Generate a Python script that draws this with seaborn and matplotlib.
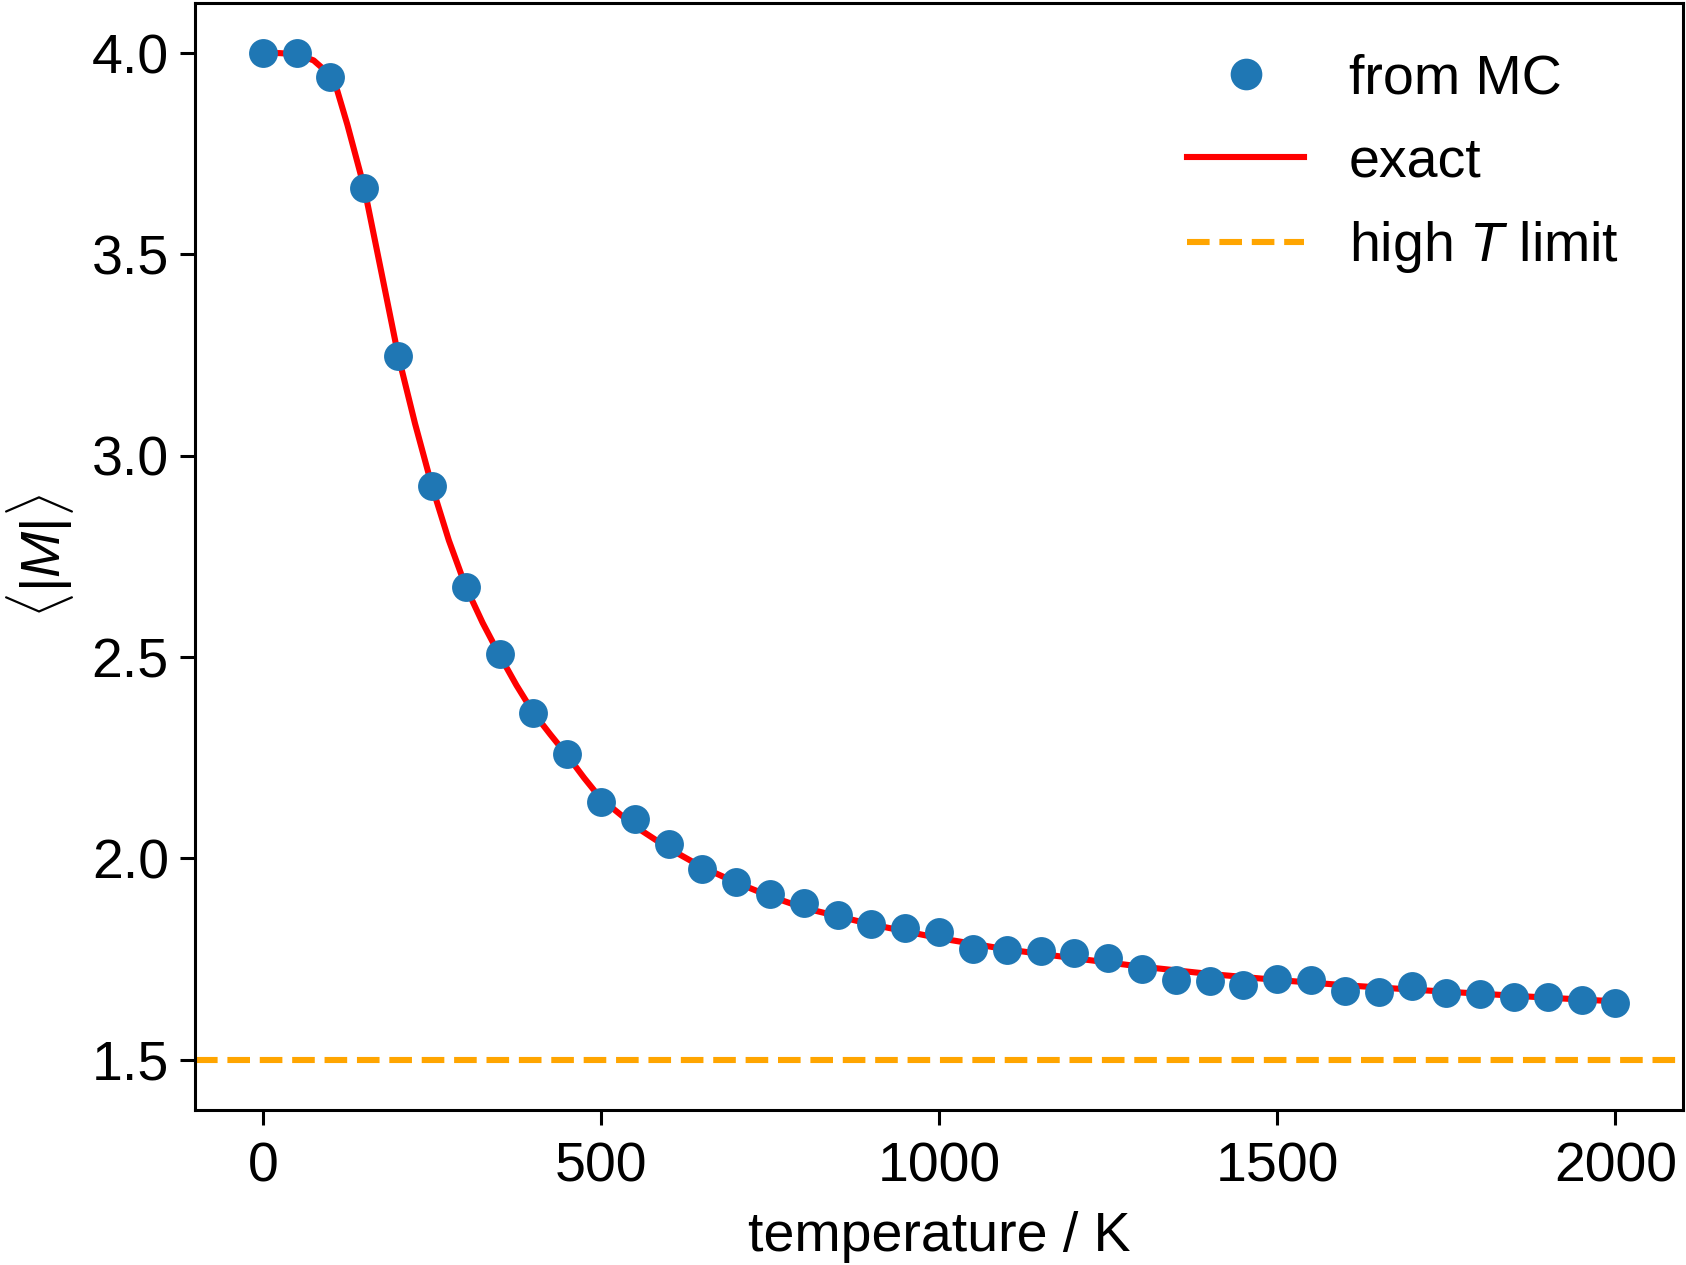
import matplotlib
matplotlib.use("Agg")
import matplotlib.pyplot as plt
import seaborn as sns
from matplotlib.lines import Line2D

# Monte Carlo samples (temperature in K, <|M|>)
temp_mc = [0, 50, 100, 150, 200, 250, 300, 350, 400, 450, 500, 550, 600, 650,
           700, 750, 800, 850, 900, 950, 1000, 1050, 1100, 1150, 1200, 1250,
           1300, 1350, 1400, 1450, 1500, 1550, 1600, 1650, 1700, 1750, 1800,
           1850, 1900, 1950, 2000]
mag_mc = [4.000, 4.000, 3.941, 3.665, 3.248, 2.925, 2.673, 2.508, 2.362, 2.260,
          2.141, 2.099, 2.036, 1.973, 1.942, 1.911, 1.888, 1.860, 1.838, 1.827,
          1.818, 1.775, 1.772, 1.769, 1.764, 1.752, 1.725, 1.699, 1.695, 1.685,
          1.700, 1.697, 1.670, 1.669, 1.682, 1.666, 1.664, 1.656, 1.656, 1.648,
          1.642]

# exact curve
temp_exact = [0, 25, 50, 75, 100, 110, 125, 150, 175, 200, 225, 250, 275, 300,
              325, 350, 375, 400, 425, 450, 475, 500, 550, 600, 650, 700, 750,
              800, 900, 1000, 1100, 1200, 1300, 1400, 1500, 1600, 1700, 1800,
              1900, 2000]
mag_exact = [4.000, 4.000, 3.997, 3.982, 3.945, 3.907, 3.822, 3.665, 3.458,
             3.250, 3.080, 2.925, 2.790, 2.675, 2.585, 2.505, 2.430, 2.362,
             2.308, 2.256, 2.200, 2.148, 2.080, 2.025, 1.978, 1.940, 1.906,
             1.877, 1.836, 1.802, 1.774, 1.752, 1.731, 1.713, 1.698, 1.685,
             1.674, 1.664, 1.654, 1.645]

high_t_limit = 1.5

plt.rcParams['font.family'] = ['Liberation Sans', 'DejaVu Sans']
plt.rcParams['mathtext.fontset'] = 'custom'
plt.rcParams['mathtext.rm'] = 'Liberation Sans'
plt.rcParams['mathtext.it'] = 'Liberation Sans:italic'
plt.rcParams['font.size'] = 20
plt.rcParams['axes.linewidth'] = 1.1

fig = plt.figure(figsize=(8.43, 6.325), dpi=200)
ax = fig.add_axes([0.1158, 0.1225, 0.8824, 0.8753])

sns.lineplot(x=temp_exact, y=mag_exact, color='red', linewidth=2.2, ax=ax)
ax.axhline(high_t_limit, color='orange', linestyle='--', linewidth=2.2)
sns.scatterplot(x=temp_mc, y=mag_mc, color='#1f77b4', s=108, linewidth=0,
                zorder=3, ax=ax)

ax.set_xticks([0, 500, 1000, 1500, 2000])
ax.set_yticks([1.5, 2.0, 2.5, 3.0, 3.5, 4.0])
ax.tick_params(length=5.5, width=1.1, pad=4, labelsize=20)
ax.tick_params(axis='x', pad=6)
ax.set_xlabel('temperature / K', fontsize=20, labelpad=6)
ax.set_ylabel(r'$\langle|M|\rangle$', fontsize=20, labelpad=5.5)

handles = [
    Line2D([], [], marker='o', color='#1f77b4', linestyle='none', markersize=10.4),
    Line2D([], [], color='red', linewidth=2.2),
    Line2D([], [], color='orange', linestyle='--', linewidth=2.2),
]
ax.legend(handles, ['from MC', 'exact', r'high $T$ limit'], frameon=False,
          loc='upper right', bbox_to_anchor=(0.994, 1.004), fontsize=20,
          handlelength=2.1, labelspacing=0.55, borderaxespad=0.6)

fig.savefig('out.png', dpi=200)
